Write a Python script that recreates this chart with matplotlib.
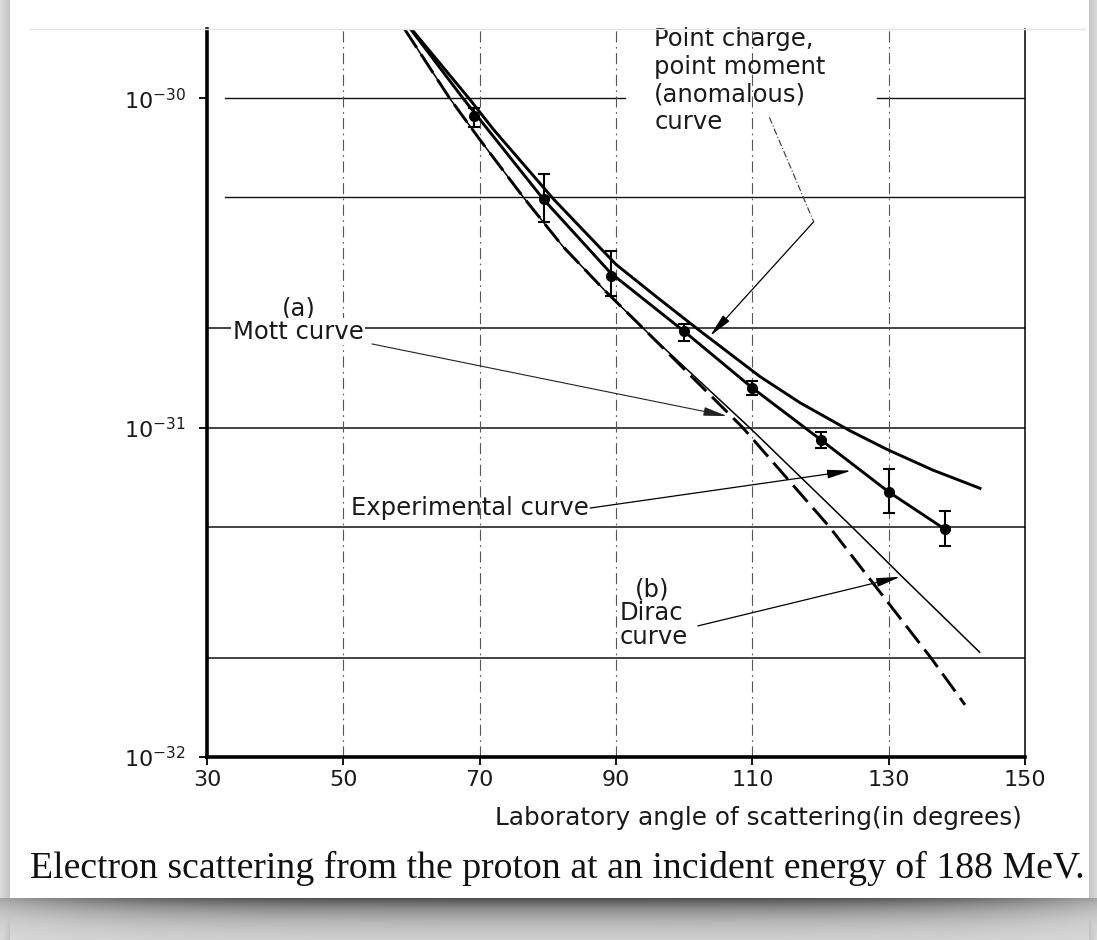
import numpy as np
import matplotlib
matplotlib.use("Agg")
import matplotlib.pyplot as plt
from matplotlib.lines import Line2D
from matplotlib.ticker import FixedLocator, FixedFormatter, NullLocator

# ---------------------------------------------------------------- data
# laboratory scattering angle (degrees) and differential cross-section (cm^2/sterad)
exp_angle = [69.1, 79.4, 89.3, 100.0, 110.0, 120.0, 130.0, 138.2]
exp_sigma = [8.81e-31, 4.95e-31, 2.88e-31, 1.96e-31, 1.32e-31, 9.18e-32, 6.38e-32, 4.92e-32]
exp_low = [8.17e-31, 4.20e-31, 2.51e-31, 1.83e-31, 1.26e-31, 8.65e-32, 5.52e-32, 4.37e-32]
exp_high = [9.33e-31, 5.90e-31, 3.44e-31, 2.07e-31, 1.39e-31, 9.70e-32, 7.50e-32, 5.57e-32]

# fitted experimental curve
fit_angle = [59.5, 67.55, 79.3, 89.2, 100.0, 110.0, 120.0, 130.0, 138.1]
fit_sigma = [1.66e-30, 1.00e-30, 4.95e-31, 2.95e-31, 1.96e-31, 1.32e-31, 9.20e-32, 6.38e-32, 4.94e-32]

# point charge, point (anomalous) moment
anom_angle = [59.6, 68.5, 72.0, 80.8, 90.0, 96.0, 102.0, 106.5, 111.1, 117.0, 124.3, 129.75, 136.5, 143.6]
anom_sigma = [1.66e-30, 9.95e-31, 8.05e-31, 4.95e-31, 3.13e-31, 2.49e-31, 1.99e-31, 1.69e-31,
              1.43e-31, 1.19e-31, 9.79e-32, 8.59e-32, 7.43e-32, 6.52e-32]

# (a) Mott curve
mott_angle = [59.0, 65.6, 70.0, 76.4, 82.2, 88.5, 95.0, 108.6, 121.3, 136.2, 141.2]
mott_sigma = [1.62e-30, 1.00e-30, 7.50e-31, 5.01e-31, 3.55e-31, 2.59e-31, 1.91e-31, 1.00e-31,
              5.00e-32, 2.00e-32, 1.44e-32]

# (b) Dirac curve
dirac_angle = [59.0, 65.6, 70.0, 76.4, 82.2, 88.5, 95.0, 109.6, 124.6, 131.9, 143.35]
dirac_sigma = [1.62e-30, 1.00e-30, 7.50e-31, 5.01e-31, 3.55e-31, 2.59e-31, 1.91e-31, 1.00e-31,
               5.00e-32, 3.54e-32, 2.08e-32]

x_ticks = [30, 50, 70, 90, 110, 130, 150]
y_ticks = [1e-32, 1e-31, 1e-30]
y_tick_labels = [r"$10^{-32}$", r"$10^{-31}$", r"$10^{-30}$"]
h_grid = [2e-32, 5e-32, 1e-31, 2e-31, 5e-31, 1e-30]
v_grid = [50, 70, 90, 110, 130]

# ---------------------------------------------------------------- figure
W, H = 1097, 940
fig = plt.figure(figsize=(W / 100, H / 100), dpi=100)
fig.patch.set_facecolor("white")

# page card with a soft drop shadow
bg = fig.add_axes([0, 0, 1, 1], zorder=-10)
bg.axis("off")
yy, xx = np.mgrid[0:H, 0:W].astype(float)
shade = np.zeros((H, W))
card_l, card_r, card_b = 10, 1088, 897
left = np.clip((card_l - xx) / card_l, 0, 1)
right = np.clip((xx - card_r) / (W - card_r), 0, 1)
shade = np.maximum(shade, np.where(xx < card_l, 0.14 + 0.10 * (1 - left), 0))
shade = np.maximum(shade, np.where(xx > card_r, 0.14 + 0.10 * (1 - right), 0))
below = (yy - card_b) / (H - card_b)
centre = 1 - np.abs((xx - W / 2) / (W / 2)) ** 4
band = np.where(yy > card_b, (0.25 + 0.35 * centre) * np.exp(-2.2 * np.clip(below, 0, 1)) + 0.12, 0)
shade = np.maximum(shade, band)
img = 1 - shade
bg.imshow(np.dstack([img, img, img]), extent=[0, 1, 0, 1], aspect="auto", interpolation="bilinear")
fig.add_artist(Line2D([30 / W, 1085 / W], [1 - 29 / H, 1 - 29 / H], color="#e4e4e4", lw=1.0))

ax = fig.add_axes([207 / W, (H - 757) / H, (1025 - 207) / W, (757 - 29) / H])
ax.set_yscale("log")
ax.set_xlim(30, 150)
ax.set_ylim(1e-32, 1.623e-30)
ax.set_facecolor("none")

for s in ("left", "bottom"):
    ax.spines[s].set_linewidth(2.6)
ax.spines["right"].set_linewidth(1.1)
ax.spines["top"].set_visible(False)

ax.xaxis.set_major_locator(FixedLocator(x_ticks))
ax.yaxis.set_major_locator(FixedLocator(y_ticks))
ax.yaxis.set_major_formatter(FixedFormatter(y_tick_labels))
ax.yaxis.set_minor_locator(NullLocator())
ax.tick_params(axis="x", direction="out", length=6, width=1.3, pad=3.5, labelsize=16, labelcolor="#1a1a1a")
ax.tick_params(axis="y", direction="out", length=6, width=1.3, pad=9, labelsize=16, labelcolor="#1a1a1a")

# grid: solid horizontals, dash-dot verticals
for g in h_grid:
    if g == 1e-30:
        ax.plot([32.6, 91.3], [g, g], color="#111", lw=1.0, zorder=1)
        ax.plot([128.3, 150], [g, g], color="#111", lw=1.0, zorder=1)
    elif g == 5e-31:
        ax.plot([32.6, 150], [g, g], color="#111", lw=1.0, zorder=1)
    else:
        ax.axhline(g, color="#111", lw=1.1, zorder=1)
for v in v_grid:
    ax.axvline(v, color="#555", lw=0.8, dashes=(10, 4, 1.5, 4), zorder=1)

# curves
ax.plot(anom_angle, anom_sigma, color="k", lw=2.1, zorder=3, solid_capstyle="butt", solid_joinstyle="round")
ax.plot(fit_angle, fit_sigma, color="k", lw=2.1, zorder=3, solid_capstyle="butt", solid_joinstyle="round")
ax.plot(dirac_angle, dirac_sigma, color="k", lw=1.1, zorder=3)
ax.plot(mott_angle, mott_sigma, color="k", lw=2.1, dashes=(7.5, 2.8), zorder=3)

ax.errorbar(exp_angle, exp_sigma,
            yerr=[np.array(exp_sigma) - np.array(exp_low), np.array(exp_high) - np.array(exp_sigma)],
            fmt="o", color="k", ms=7, capsize=4, elinewidth=1.5, capthick=1.5, zorder=4)

# labels and leaders
tfont = dict(fontsize=17.5, color="#1a1a1a", family="DejaVu Sans")
arrow = dict(arrowstyle="-|>,head_length=1.2,head_width=0.22", color="k", lw=0.9,
             shrinkA=0, shrinkB=0, mutation_scale=12)

ax.text(95.6, 1.646e-30, "Point charge,\npoint moment\n(anomalous)\ncurve", ha="left", va="top",
        linespacing=1.2, zorder=5, **tfont)
ax.plot([112.5, 119.0], [8.75e-31, 4.217e-31], color="#333", lw=0.8, dashes=(6, 2, 1, 2), zorder=3)
ax.annotate("", xy=(103.8, 1.897e-31), xytext=(119.0, 4.217e-31), arrowprops=arrow, zorder=5)

ax.text(43.5, 2.307e-31, "(a)", ha="center", va="center", zorder=5, **tfont)
ax.text(33.8, 1.954e-31, "Mott curve", ha="left", va="center", zorder=5,
        bbox=dict(facecolor="white", edgecolor="none", pad=1), **tfont)
ax.annotate("", xy=(106.3, 1.084e-31), xytext=(54.2, 1.795e-31),
            arrowprops=dict(arrow, color="#222", lw=0.8), zorder=5)

ax.text(51.1, 5.70e-32, "Experimental curve", ha="left", va="center", zorder=5, **tfont)
ax.annotate("", xy=(124.5, 7.40e-32), xytext=(86.2, 5.70e-32), arrowprops=arrow, zorder=5)

ax.text(92.8, 3.236e-32, "(b)", ha="left", va="center", zorder=5, **tfont)
ax.text(90.6, 2.735e-32, "Dirac", ha="left", va="center", zorder=5, **tfont)
ax.text(90.6, 2.312e-32, "curve", ha="left", va="center", zorder=5, **tfont)
ax.annotate("", xy=(131.7, 3.524e-32), xytext=(102.0, 2.50e-32), arrowprops=arrow, zorder=5)

fig.text(758 / W, 1 - 818 / H, "Laboratory angle of scattering(in degrees)", ha="center", va="center",
         fontsize=17.8, color="#1a1a1a")
fig.text(557 / W, 1 - 868 / H, "Electron scattering from the proton at an incident energy of 188 MeV.",
         ha="center", va="center", fontsize=27.2, family="Liberation Serif", color="#111")

fig.savefig("out.png", dpi=100)
